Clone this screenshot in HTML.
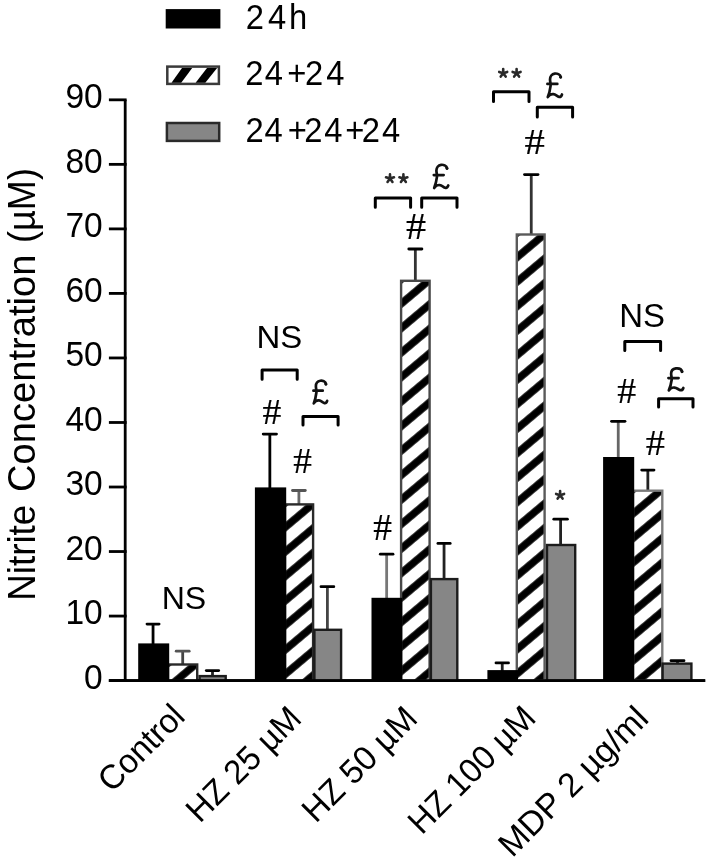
<!DOCTYPE html>
<html><head><meta charset="utf-8"><title>Nitrite Concentration</title>
<style>html,body{margin:0;padding:0;background:#fff;width:709px;height:861px;overflow:hidden}svg{display:block;filter:blur(0.6px)}text{font-family:"Liberation Sans", sans-serif}</style>
</head><body>
<svg width="709" height="861" viewBox="0 0 709 861">
<defs><pattern id="h_Control" patternUnits="userSpaceOnUse" width="400" height="18.760" patternTransform="translate(166.80,664.00) rotate(-40.030)"><rect x="-1" y="0" width="402" height="18.760" fill="#fff"/><rect x="-1" y="0" width="402" height="3.752" fill="#000"/><rect x="-1" y="15.008" width="402" height="3.752" fill="#000"/></pattern><pattern id="h_HZ25" patternUnits="userSpaceOnUse" width="400" height="18.760" patternTransform="translate(283.80,503.90) rotate(-40.030)"><rect x="-1" y="0" width="402" height="18.760" fill="#fff"/><rect x="-1" y="0" width="402" height="3.752" fill="#000"/><rect x="-1" y="15.008" width="402" height="3.752" fill="#000"/></pattern><pattern id="h_HZ50" patternUnits="userSpaceOnUse" width="400" height="18.760" patternTransform="translate(399.90,280.30) rotate(-40.030)"><rect x="-1" y="0" width="402" height="18.760" fill="#fff"/><rect x="-1" y="0" width="402" height="3.752" fill="#000"/><rect x="-1" y="15.008" width="402" height="3.752" fill="#000"/></pattern><pattern id="h_HZ100" patternUnits="userSpaceOnUse" width="400" height="18.760" patternTransform="translate(515.60,234.00) rotate(-40.030)"><rect x="-1" y="0" width="402" height="18.760" fill="#fff"/><rect x="-1" y="0" width="402" height="3.752" fill="#000"/><rect x="-1" y="15.008" width="402" height="3.752" fill="#000"/></pattern><pattern id="h_MDP" patternUnits="userSpaceOnUse" width="400" height="18.760" patternTransform="translate(631.80,490.20) rotate(-40.030)"><rect x="-1" y="0" width="402" height="18.760" fill="#fff"/><rect x="-1" y="0" width="402" height="3.752" fill="#000"/><rect x="-1" y="15.008" width="402" height="3.752" fill="#000"/></pattern></defs>
<line x1="125.2" y1="99.83" x2="125.2" y2="682.00" stroke="#000" stroke-width="2.8"/>
<line x1="108.9" y1="680.60" x2="126.60" y2="680.60" stroke="#000" stroke-width="2.8"/>
<line x1="108.9" y1="616.07" x2="126.60" y2="616.07" stroke="#000" stroke-width="2.8"/>
<line x1="108.9" y1="551.54" x2="126.60" y2="551.54" stroke="#000" stroke-width="2.8"/>
<line x1="108.9" y1="487.01" x2="126.60" y2="487.01" stroke="#000" stroke-width="2.8"/>
<line x1="108.9" y1="422.48" x2="126.60" y2="422.48" stroke="#000" stroke-width="2.8"/>
<line x1="108.9" y1="357.95" x2="126.60" y2="357.95" stroke="#000" stroke-width="2.8"/>
<line x1="108.9" y1="293.42" x2="126.60" y2="293.42" stroke="#000" stroke-width="2.8"/>
<line x1="108.9" y1="228.89" x2="126.60" y2="228.89" stroke="#000" stroke-width="2.8"/>
<line x1="108.9" y1="164.36" x2="126.60" y2="164.36" stroke="#000" stroke-width="2.8"/>
<line x1="108.9" y1="99.83" x2="126.60" y2="99.83" stroke="#000" stroke-width="2.8"/>
<line x1="108.9" y1="680.6" x2="705.2" y2="680.6" stroke="#000" stroke-width="2.8"/>
<text transform="translate(102.70,689.00) scale(0.9500,1)" text-anchor="end" style="font-family:'Liberation Sans', sans-serif;font-size:35.30px;" fill="#000">0</text>
<text transform="translate(102.70,624.47) scale(0.9500,1)" text-anchor="end" style="font-family:'Liberation Sans', sans-serif;font-size:35.30px;" fill="#000">10</text>
<text transform="translate(102.70,559.94) scale(0.9500,1)" text-anchor="end" style="font-family:'Liberation Sans', sans-serif;font-size:35.30px;" fill="#000">20</text>
<text transform="translate(102.70,495.41) scale(0.9500,1)" text-anchor="end" style="font-family:'Liberation Sans', sans-serif;font-size:35.30px;" fill="#000">30</text>
<text transform="translate(102.70,430.88) scale(0.9500,1)" text-anchor="end" style="font-family:'Liberation Sans', sans-serif;font-size:35.30px;" fill="#000">40</text>
<text transform="translate(102.70,366.35) scale(0.9500,1)" text-anchor="end" style="font-family:'Liberation Sans', sans-serif;font-size:35.30px;" fill="#000">50</text>
<text transform="translate(102.70,301.82) scale(0.9500,1)" text-anchor="end" style="font-family:'Liberation Sans', sans-serif;font-size:35.30px;" fill="#000">60</text>
<text transform="translate(102.70,237.29) scale(0.9500,1)" text-anchor="end" style="font-family:'Liberation Sans', sans-serif;font-size:35.30px;" fill="#000">70</text>
<text transform="translate(102.70,172.76) scale(0.9500,1)" text-anchor="end" style="font-family:'Liberation Sans', sans-serif;font-size:35.30px;" fill="#000">80</text>
<text transform="translate(102.70,108.23) scale(0.9500,1)" text-anchor="end" style="font-family:'Liberation Sans', sans-serif;font-size:35.30px;" fill="#000">90</text>
<line x1="153.05" y1="644.40" x2="153.05" y2="624.10" stroke="#000" stroke-width="2.8"/>
<line x1="147.00" y1="624.10" x2="159.10" y2="624.10" stroke="#000" stroke-width="2.8" stroke-linecap="round"/>
<line x1="182.70" y1="664.30" x2="182.70" y2="651.20" stroke="#444" stroke-width="2.8"/>
<line x1="176.20" y1="651.20" x2="189.20" y2="651.20" stroke="#555" stroke-width="2.8" stroke-linecap="round"/>
<line x1="212.50" y1="675.90" x2="212.50" y2="670.60" stroke="#222" stroke-width="2.8"/>
<line x1="206.30" y1="670.60" x2="218.70" y2="670.60" stroke="#000" stroke-width="2.8" stroke-linecap="round"/>
<rect x="168.00" y="664.50" width="29.20" height="16.10" fill="url(#h_Control)" stroke="#2a2a2a" stroke-width="2.4"/>
<rect x="139.40" y="644.60" width="28.60" height="36.00" fill="#000" stroke="#000" stroke-width="2.4"/>
<rect x="199.60" y="676.10" width="26.10" height="4.50" fill="#868686" stroke="#1c1c1c" stroke-width="2.4"/>
<line x1="269.85" y1="488.40" x2="269.85" y2="434.10" stroke="#000" stroke-width="2.8"/>
<line x1="263.20" y1="434.10" x2="276.50" y2="434.10" stroke="#000" stroke-width="2.8" stroke-linecap="round"/>
<line x1="298.90" y1="504.20" x2="298.90" y2="490.50" stroke="#666" stroke-width="2.8"/>
<line x1="292.50" y1="490.50" x2="305.30" y2="490.50" stroke="#555" stroke-width="2.8" stroke-linecap="round"/>
<line x1="327.40" y1="629.60" x2="327.40" y2="586.70" stroke="#444" stroke-width="2.8"/>
<line x1="321.00" y1="586.70" x2="333.80" y2="586.70" stroke="#000" stroke-width="2.8" stroke-linecap="round"/>
<rect x="285.00" y="504.40" width="28.10" height="176.20" fill="url(#h_HZ25)" stroke="#2a2a2a" stroke-width="2.4"/>
<rect x="256.10" y="488.60" width="28.90" height="192.00" fill="#000" stroke="#000" stroke-width="2.4"/>
<rect x="314.40" y="629.80" width="26.70" height="50.80" fill="#868686" stroke="#1c1c1c" stroke-width="2.4"/>
<line x1="386.65" y1="598.80" x2="386.65" y2="554.20" stroke="#777" stroke-width="2.8"/>
<line x1="380.30" y1="554.20" x2="393.00" y2="554.20" stroke="#000" stroke-width="2.8" stroke-linecap="round"/>
<line x1="415.35" y1="280.60" x2="415.35" y2="249.00" stroke="#333" stroke-width="2.8"/>
<line x1="408.80" y1="249.00" x2="421.90" y2="249.00" stroke="#000" stroke-width="2.8" stroke-linecap="round"/>
<line x1="444.05" y1="578.90" x2="444.05" y2="543.40" stroke="#222" stroke-width="2.8"/>
<line x1="437.90" y1="543.40" x2="450.20" y2="543.40" stroke="#000" stroke-width="2.8" stroke-linecap="round"/>
<rect x="401.10" y="280.80" width="28.50" height="399.80" fill="url(#h_HZ50)" stroke="#484848" stroke-width="2.4"/>
<rect x="372.70" y="599.00" width="28.40" height="81.60" fill="#000" stroke="#000" stroke-width="2.4"/>
<rect x="430.90" y="579.10" width="26.40" height="101.50" fill="#868686" stroke="#1c1c1c" stroke-width="2.4"/>
<line x1="502.25" y1="671.10" x2="502.25" y2="662.90" stroke="#222" stroke-width="2.8"/>
<line x1="496.00" y1="662.90" x2="508.50" y2="662.90" stroke="#000" stroke-width="2.8" stroke-linecap="round"/>
<line x1="531.25" y1="234.30" x2="531.25" y2="174.60" stroke="#333" stroke-width="2.8"/>
<line x1="524.50" y1="174.60" x2="538.00" y2="174.60" stroke="#000" stroke-width="2.8" stroke-linecap="round"/>
<line x1="560.60" y1="544.80" x2="560.60" y2="519.20" stroke="#222" stroke-width="2.8"/>
<line x1="553.80" y1="519.20" x2="567.40" y2="519.20" stroke="#000" stroke-width="2.8" stroke-linecap="round"/>
<rect x="516.80" y="234.50" width="27.80" height="446.10" fill="url(#h_HZ100)" stroke="#5a5a5a" stroke-width="2.4"/>
<rect x="488.60" y="671.30" width="28.20" height="9.30" fill="#000" stroke="#000" stroke-width="2.4"/>
<rect x="547.00" y="545.00" width="28.20" height="135.60" fill="#868686" stroke="#1c1c1c" stroke-width="2.4"/>
<line x1="618.25" y1="458.00" x2="618.25" y2="421.30" stroke="#666" stroke-width="2.8"/>
<line x1="611.50" y1="421.30" x2="625.00" y2="421.30" stroke="#000" stroke-width="2.8" stroke-linecap="round"/>
<line x1="647.85" y1="490.50" x2="647.85" y2="470.10" stroke="#222" stroke-width="2.8"/>
<line x1="641.70" y1="470.10" x2="654.00" y2="470.10" stroke="#000" stroke-width="2.8" stroke-linecap="round"/>
<line x1="677.50" y1="663.40" x2="677.50" y2="660.70" stroke="#222" stroke-width="2.8"/>
<line x1="671.00" y1="660.70" x2="684.00" y2="660.70" stroke="#000" stroke-width="2.8" stroke-linecap="round"/>
<rect x="633.00" y="490.70" width="29.30" height="189.90" fill="url(#h_MDP)" stroke="#7a7a7a" stroke-width="2.4"/>
<rect x="604.30" y="458.20" width="28.70" height="222.40" fill="#000" stroke="#000" stroke-width="2.4"/>
<rect x="662.60" y="663.60" width="28.80" height="17.00" fill="#868686" stroke="#1c1c1c" stroke-width="2.4"/>
<line x1="108.9" y1="680.6" x2="705.2" y2="680.6" stroke="#000" stroke-width="2.8"/>
<path d="M262.10,379.20 V370.10 H297.20 V379.20" fill="none" stroke="#000" stroke-width="3.0" stroke-linejoin="round" stroke-linecap="round"/>
<path d="M303.00,425.00 V416.60 H338.10 V425.00" fill="none" stroke="#000" stroke-width="3.0" stroke-linejoin="round" stroke-linecap="round"/>
<path d="M375.30,207.20 V198.00 H410.60 V207.20" fill="none" stroke="#000" stroke-width="3.0" stroke-linejoin="round" stroke-linecap="round"/>
<path d="M421.70,207.20 V198.00 H457.00 V207.20" fill="none" stroke="#000" stroke-width="3.0" stroke-linejoin="round" stroke-linecap="round"/>
<path d="M493.50,101.60 V91.80 H529.00 V101.60" fill="none" stroke="#000" stroke-width="3.0" stroke-linejoin="round" stroke-linecap="round"/>
<path d="M537.30,117.10 V107.30 H572.60 V117.10" fill="none" stroke="#000" stroke-width="3.0" stroke-linejoin="round" stroke-linecap="round"/>
<path d="M624.80,350.60 V341.60 H660.60 V350.60" fill="none" stroke="#000" stroke-width="3.0" stroke-linejoin="round" stroke-linecap="round"/>
<path d="M658.60,407.00 V398.70 H693.00 V407.00" fill="none" stroke="#000" stroke-width="3.0" stroke-linejoin="round" stroke-linecap="round"/>
<text transform="translate(161.65,609.29) scale(1.0459,1)" style="font-family:'Liberation Sans', sans-serif;font-size:30.67px;" fill="#000" >NS</text>
<text transform="translate(256.48,347.78) scale(1.0361,1)" style="font-family:'Liberation Sans', sans-serif;font-size:31.80px;" fill="#000" >NS</text>
<text transform="translate(619.18,327.07) scale(1.0005,1)" style="font-family:'Liberation Sans', sans-serif;font-size:32.93px;" fill="#000" >NS</text>
<text transform="translate(262.44,423.90) scale(1.0625,1)" style="font-family:'Liberation Serif', serif;font-size:35.42px;" fill="#000" stroke="#000" stroke-width="0.2">#</text>
<text transform="translate(293.25,473.30) scale(1.0459,1)" style="font-family:'Liberation Serif', serif;font-size:35.57px;" fill="#000" stroke="#000" stroke-width="0.2">#</text>
<text transform="translate(373.25,540.20) scale(0.9963,1)" style="font-family:'Liberation Serif', serif;font-size:37.56px;" fill="#000" stroke="#000" stroke-width="0.2">#</text>
<text transform="translate(406.10,239.30) scale(1.0795,1)" style="font-family:'Liberation Serif', serif;font-size:37.25px;" fill="#000" stroke="#000" stroke-width="0.2">#</text>
<text transform="translate(524.59,154.00) scale(1.1281,1)" style="font-family:'Liberation Serif', serif;font-size:36.03px;" fill="#000" stroke="#000" stroke-width="0.2">#</text>
<text transform="translate(617.34,403.10) scale(1.0732,1)" style="font-family:'Liberation Serif', serif;font-size:35.27px;" fill="#000" stroke="#000" stroke-width="0.2">#</text>
<text transform="translate(645.83,454.90) scale(1.0624,1)" style="font-family:'Liberation Serif', serif;font-size:36.03px;" fill="#000" stroke="#000" stroke-width="0.2">#</text>
<g transform="translate(313.24,380.15) scale(0.8804,0.9478)"><path d="M14.6,4.2 C13.8,1.2 10.5,0.3 8.0,0.6 C5.0,1.0 3.0,3.5 3.0,6.5 C3.0,9.0 4.0,11.0 3.6,13.0 C3.2,16.0 2.5,20.0 0.6,24.5 C2.0,22.5 4.0,21.2 6.5,21.4 C9.0,21.6 10.5,23.6 12.5,24.2 C14.0,24.6 15.2,23.5 15.8,21.8 M0.2,11.1 L10.8,11.1" fill="none" stroke="#111" stroke-width="2.7" stroke-linecap="round" stroke-linejoin="round" vector-effect="non-scaling-stroke"/><circle cx="14.3" cy="4.3" r="1.5" fill="#111"/></g>
<g transform="translate(433.61,164.27) scale(0.9293,0.9701)"><path d="M14.6,4.2 C13.8,1.2 10.5,0.3 8.0,0.6 C5.0,1.0 3.0,3.5 3.0,6.5 C3.0,9.0 4.0,11.0 3.6,13.0 C3.2,16.0 2.5,20.0 0.6,24.5 C2.0,22.5 4.0,21.2 6.5,21.4 C9.0,21.6 10.5,23.6 12.5,24.2 C14.0,24.6 15.2,23.5 15.8,21.8 M0.2,11.1 L10.8,11.1" fill="none" stroke="#111" stroke-width="2.7" stroke-linecap="round" stroke-linejoin="round" vector-effect="non-scaling-stroke"/><circle cx="14.3" cy="4.3" r="1.5" fill="#111"/></g>
<g transform="translate(547.22,72.99) scale(0.9348,0.9851)"><path d="M14.6,4.2 C13.8,1.2 10.5,0.3 8.0,0.6 C5.0,1.0 3.0,3.5 3.0,6.5 C3.0,9.0 4.0,11.0 3.6,13.0 C3.2,16.0 2.5,20.0 0.6,24.5 C2.0,22.5 4.0,21.2 6.5,21.4 C9.0,21.6 10.5,23.6 12.5,24.2 C14.0,24.6 15.2,23.5 15.8,21.8 M0.2,11.1 L10.8,11.1" fill="none" stroke="#111" stroke-width="2.7" stroke-linecap="round" stroke-linejoin="round" vector-effect="non-scaling-stroke"/><circle cx="14.3" cy="4.3" r="1.5" fill="#111"/></g>
<g transform="translate(668.24,367.82) scale(0.9565,0.9216)"><path d="M14.6,4.2 C13.8,1.2 10.5,0.3 8.0,0.6 C5.0,1.0 3.0,3.5 3.0,6.5 C3.0,9.0 4.0,11.0 3.6,13.0 C3.2,16.0 2.5,20.0 0.6,24.5 C2.0,22.5 4.0,21.2 6.5,21.4 C9.0,21.6 10.5,23.6 12.5,24.2 C14.0,24.6 15.2,23.5 15.8,21.8 M0.2,11.1 L10.8,11.1" fill="none" stroke="#111" stroke-width="2.7" stroke-linecap="round" stroke-linejoin="round" vector-effect="non-scaling-stroke"/><circle cx="14.3" cy="4.3" r="1.5" fill="#111"/></g>
<path d="M390.00,178.60 L390.00,174.40 M390.00,178.60 L393.99,177.30 M390.00,178.60 L392.47,182.00 M390.00,178.60 L387.53,182.00 M390.00,178.60 L386.01,177.30" stroke="#2a2a2a" stroke-width="2.6" stroke-linecap="round" fill="none"/>
<path d="M403.40,178.60 L403.40,174.40 M403.40,178.60 L407.39,177.30 M403.40,178.60 L405.87,182.00 M403.40,178.60 L400.93,182.00 M403.40,178.60 L399.41,177.30" stroke="#2a2a2a" stroke-width="2.6" stroke-linecap="round" fill="none"/>
<path d="M503.20,73.20 L503.20,69.00 M503.20,73.20 L507.19,71.90 M503.20,73.20 L505.67,76.60 M503.20,73.20 L500.73,76.60 M503.20,73.20 L499.21,71.90" stroke="#2a2a2a" stroke-width="2.6" stroke-linecap="round" fill="none"/>
<path d="M516.60,73.20 L516.60,69.00 M516.60,73.20 L520.59,71.90 M516.60,73.20 L519.07,76.60 M516.60,73.20 L514.13,76.60 M516.60,73.20 L512.61,71.90" stroke="#2a2a2a" stroke-width="2.6" stroke-linecap="round" fill="none"/>
<path d="M560.10,495.20 L560.10,491.00 M560.10,495.20 L564.09,493.90 M560.10,495.20 L562.57,498.60 M560.10,495.20 L557.63,498.60 M560.10,495.20 L556.11,493.90" stroke="#2a2a2a" stroke-width="2.6" stroke-linecap="round" fill="none"/>
<rect x="166.9" y="10.3" width="52.3" height="17.0" fill="#000" stroke="#000" stroke-width="2.4"/>
<rect x="167.3" y="66.6" width="51.6" height="17.3" fill="#fff" stroke="#3a3a3a" stroke-width="2.5"/>
<polygon points="171.5,82.8 181.2,82.8 192.2,68.0 182.0,68.0" fill="#000"/>
<polygon points="195.6,82.8 205.3,82.8 217.1,68.0 207.0,68.0" fill="#000"/>
<rect x="166.9" y="123.0" width="52.3" height="17.9" fill="#868686" stroke="#2a2a2a" stroke-width="2.5"/>
<text transform="scale(0.92,1)" y="28.60" style="font-family:'Liberation Sans', sans-serif;font-size:35.60px;" fill="#000"><tspan x="267.02">2</tspan><tspan x="291.37">4</tspan><tspan x="314.14">h</tspan></text>
<text transform="scale(0.92,1)" y="84.80" style="font-family:'Liberation Sans', sans-serif;font-size:35.60px;" fill="#000"><tspan x="266.70">2</tspan><tspan x="287.89">4</tspan><tspan x="312.33">+</tspan><tspan x="331.59">2</tspan><tspan x="354.53">4</tspan></text>
<text transform="scale(0.92,1)" y="141.60" style="font-family:'Liberation Sans', sans-serif;font-size:35.60px;" fill="#000"><tspan x="266.92">2</tspan><tspan x="287.46">4</tspan><tspan x="312.66">+</tspan><tspan x="330.83">2</tspan><tspan x="352.57">4</tspan><tspan x="375.16">+</tspan><tspan x="393.33">2</tspan><tspan x="415.18">4</tspan></text>
<text transform="translate(35.20,600.84) rotate(-90) scale(0.9441,1)" style="font-family:'Liberation Sans', sans-serif;font-size:39.00px;" fill="#000">Nitrite</text>
<text transform="translate(35.20,491.91) rotate(-90) scale(0.9774,1)" style="font-family:'Liberation Sans', sans-serif;font-size:39.00px;" fill="#000">Concentration</text>
<text transform="translate(35.20,242.96) rotate(-90) scale(0.9258,1)" style="font-family:'Liberation Sans', sans-serif;font-size:39.00px;" fill="#000">(µM)</text>
<text transform="translate(186.80,718.30) rotate(-45) scale(0.9690,1)" text-anchor="end" style="font-family:'Liberation Sans', sans-serif;font-size:34.00px;" fill="#000">Control</text>
<text transform="translate(303.20,720.50) rotate(-45) scale(0.9760,1)" text-anchor="end" style="font-family:'Liberation Sans', sans-serif;font-size:34.00px;" fill="#000">HZ 25 µM</text>
<text transform="translate(419.20,720.50) rotate(-45) scale(0.9760,1)" text-anchor="end" style="font-family:'Liberation Sans', sans-serif;font-size:34.00px;" fill="#000">HZ 50 µM</text>
<text transform="translate(537.60,719.90) rotate(-45) scale(0.9700,1)" text-anchor="end" style="font-family:'Liberation Sans', sans-serif;font-size:34.00px;" fill="#000">HZ 100 µM</text>
<text transform="translate(650.20,720.50) rotate(-45) scale(0.9930,1)" text-anchor="end" style="font-family:'Liberation Sans', sans-serif;font-size:34.00px;" fill="#000">MDP 2 µg/ml</text>
</svg>
</body></html>
